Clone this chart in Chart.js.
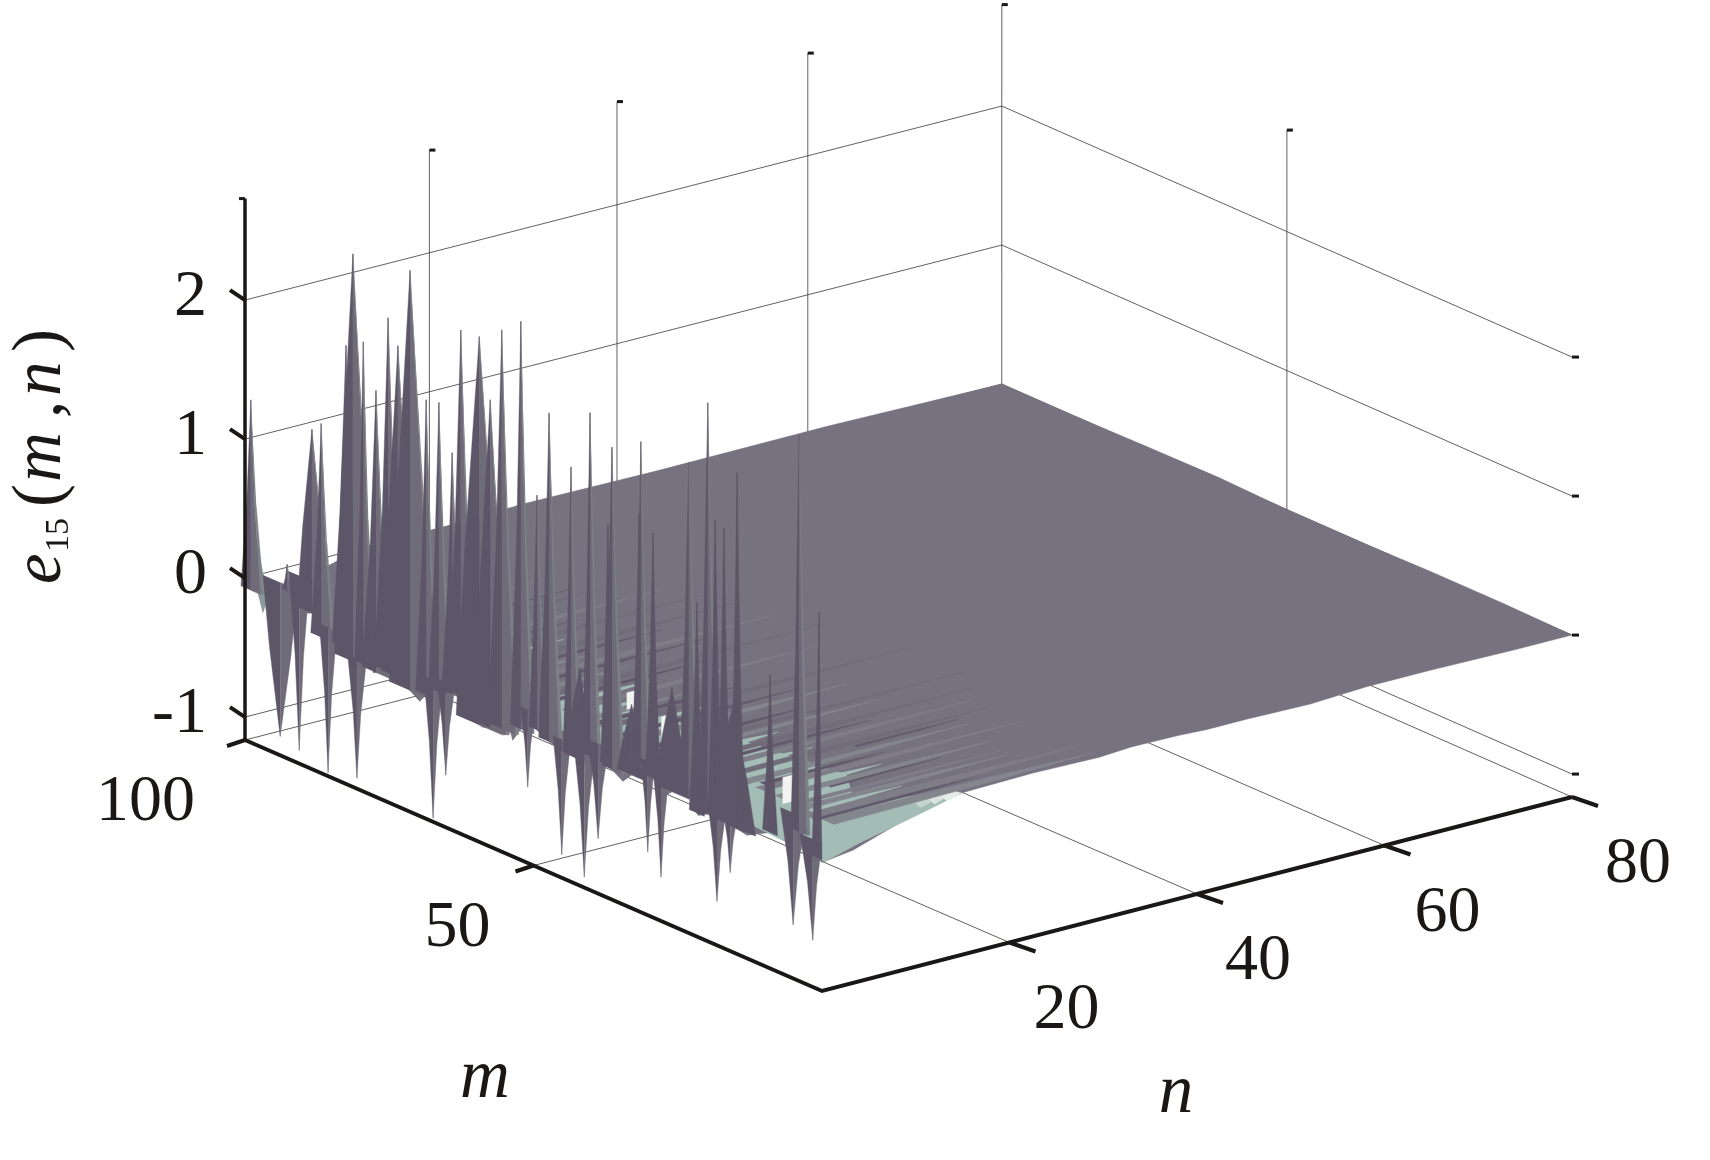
<!DOCTYPE html>
<html>
<head>
<meta charset="utf-8">
<title>e15(m,n)</title>
<script src="https://cdn.jsdelivr.net/npm/chart.js@4/dist/chart.umd.js"></script>
<style>
html, body { margin: 0; padding: 0; background: #fff; }
canvas { display: block; }
</style>
</head>
<body>
<canvas id="surface" width="1710" height="1160"></canvas>
<script>
// tick values
const zTicks = [-1, 0, 1, 2];
const mTicks = [50, 100];
const nTicks = [20, 40, 60, 80];
const zFloor = -1.165, zTop = 2.73;

// peaks on the n=0 edge
const upM    = [99, 92.7, 88.4, 86.8, 82.5, 81.3, 79.5, 77.3, 75.2, 73.5, 71.4, 68.6, 66.4, 64.1, 62.6, 59.4, 57.5, 55.5, 52.2, 49.4, 47.3, 43.5, 40.2, 36.4, 31.4, 23.1, 19.8, 4];
const upZ    = [1.3, 0.23, 1.28, 1.35, 1.99, 2.67, 2.07, 1.76, 2.32, 2.15, 2.73, 1.85, 1.87, 1.55, 2.46, 2.47, 2.05, 2.59, 2.71, 1.51, 2.14, 1.82, 2.27, 2.09, 2.22, 2.22, 2.71, 2.76];
const upHalf = [1.7, 0.8, 2.6, 1.8, 2.4, 3.2, 1.5, 2.4, 2.4, 2.8, 3.6, 1.8, 1.8, 1.8, 2.4, 4, 2.8, 2.4, 1.8, 1.4, 1.8, 1.4, 1.4, 1.7, 1.4, 1.7, 1.7, 1.4];

// darker peaks standing in front of the plane
const innerM    = [42, 37.1, 33, 31.7, 29.3, 26, 21.7, 18.5, 17, 15.5, 14.7, 9, 0.5];
const innerZ    = [0.4, 1.52, 0.3, 1.7, 1.6, 0.55, 1.24, 1.89, 1.86, 0.6, 2.3, 0.95, 1.55];
const innerHalf = [2.5, 1.3, 2.5, 1.3, 1.3, 3, 1.3, 1.3, 1.3, 4, 1.3, 1.3, 1.3];

// troughs on the n=0 edge
const downM    = [93.9, 90.6, 85.6, 80.6, 67.4, 65.2, 51, 45.1, 41.2, 38.8, 30.2, 27.9, 18.2, 15.9, 5, 1.6];
const downZ    = [-1.03, -1.07, -1.14, -1.09, -1.14, -0.79, -0.62, -1, -1.09, -0.77, -0.71, -0.85, -0.85, -0.6, -0.78, -0.83];
const downHalf = [3, 1.8, 1.5, 1.6, 1.6, 1.6, 1.2, 1.5, 1.8, 1.8, 1.2, 1.3, 1.6, 1.2, 2.2, 2.2];

// lower outline of the surface along n=0
const edgeM = [96, 90.5, 90, 88.2, 87, 83, 80.6, 78.3, 77.8, 74.4, 72.6, 69.7, 67.9, 61.5, 60.7, 58.8, 54.1, 53.6, 51.1, 47.7, 45.4, 41.9, 39, 34.5, 31, 26.9, 24.1, 21.5, 18.9, 13, 7.8, 5.9, 0];
const edgeZ = [-0.07, 0.11, -0.07, -0.04, -0.19, -0.15, -0.31, -0.18, -0.28, -0.21, -0.26, -0.34, -0.23, -0.16, -0.31, -0.33, -0.26, -0.33, -0.14, -0.22, -0.25, -0.26, -0.16, -0.28, -0.11, -0.24, -0.12, -0.29, -0.23, -0.28, -0.16, -0.02, -0.24];

// outline along m=0
const frontN = [3.3, 8.3, 11.8, 14.7, 22.5, 29.6, 33, 38, 41, 45.5, 52, 58, 65, 74, 80];
const frontZ = [-0.21, -0.1, -0.02, 0, 0.01, 0, 0.015, 0.01, 0, 0, -0.01, 0.01, 0.01, 0, 0];

// outline along n=80
const rightM = [12, 25, 37, 50, 62, 75, 88, 100];
const rightZ = [0.01, 0.01, 0, 0, 0.015, 0.01, 0, 0];

// outline along m=100
const backN = [62, 44, 30, 21, 13, 9, 6];
const backZ = [0.01, 0, 0.01, -0.01, 0, -0.07, -0.17];

// light strip beside the m=100 wall
const faceM = [100, 96.9, 96, 98.3];
const faceZ = [0.274, -0.195, -0.07, 0.355];

// exposed underside near the front corner
const tealM = [0, 0, 0, 0, 1.5, 4, 12, 30, 50, 56, 56];
const tealN = [0.3, 4, 10, 15, 14, 6, 10, 8, 4, 2, 0.5];
const tealZ = [-0.24, -0.17, -0.08, 0, 0, 0, 0, 0, 0, 0, -0.1];

// ripples running along n
const streakM    = [1.5, 3, 4.2, 5.6, 6.6, 8, 10.2, 11, 12.4, 14, 15.2, 16.8, 18.5, 19.6, 21, 22.4, 24, 25.4, 27, 28.6, 30, 31.4, 33, 34.6, 36.5, 38, 39.5, 41, 42.6, 44, 46, 48, 49.5, 51, 53, 55, 56.5, 58.5, 60, 62, 64, 66, 68, 70, 72, 74, 76, 78, 80, 83, 86];
const streakFrom = [1.5, 1, 1, 2, 2, 2, 7, 2, 2, 2, 3, 2, 15, 2, 2, 2, 1, 1, 1, 1, 1, 1, 0, 1, 1, 0, 1, 1, 0, 0, 1, 0, 1, 1, 1, 1, 1, 1, 2, 1, 1, 2, 1, 1, 1, 2, 1, 1, 1, 1, 1];
const streakTo   = [30, 18, 30, 12, 24, 24, 19, 25, 14, 30, 16, 26, 26, 30, 12, 30, 20, 32, 12, 24, 34, 18, 10, 24, 20, 12, 34, 16, 12, 9, 28, 12, 18, 32, 12, 22, 30, 12, 20, 30, 12, 28, 16, 26, 10, 22, 20, 9, 20, 8, 18];
const streakSpan = [2.2, 1, 2, 1.3, 1.4, 1, 0.7, 1.5, 1.7, 1.5, 1, 1.5, 0.5, 1.4, 1.7, 1.4, 1, 1.4, 2, 1.2, 1, 1.2, 1.7, 1.5, 1, 1.7, 1.4, 1.2, 1.5, 1.5, 1.4, 1.5, 1, 1.4, 1.4, 0.8, 1.4, 1.4, 0.8, 1.5, 1.4, 1.2, 0.8, 1.4, 1.4, 1, 0.7, 1.4, 1.2, 1.4, 0.8];
const streakKind = ['g', 'd', 'l', 't', 'g', 'l', 'd', 'g', 't', 'l', 'd', 'g', 'd', 'f', 't', 'l', 'd', 'f', 't', 'g', 'f', 'd', 't', 'g', 'd', 't', 'f', 'd', 'g', 't', 'l', 't', 'd', 'f', 'g', 'd', 'l', 'g', 'd', 'f', 't', 'f', 'd', 'l', 'g', 'f', 'd', 'g', 'l', 'g', 'f'];

// bright patches seen between the ripples
const patchM  = [47, 43.5, 33.5, 12.5];
const patchN  = [3.1, 6, 3.5, 3.5];
const patchDn = [1.8, 1, 1.2, 1.1];
const patchZ  = [-0.065, -0.03, -0.12, -0.105];
const patchDz = [0.165, 0.12, 0.26, 0.19];

// paler steps of the underside at the front
const wedgeN = [10.5, 12, 13.3];
const wedgeDn = [1.5, 1.3, 1.5];

const INK = '#1a1714', GRID = '#3a3836';
const MAIN = '#77727f', DARK = '#5d5568', MID = '#6f6b79', SLATE = '#7d8286';
const KIND = { f: '#716c79', l: '#7f7d88', g: '#84868e', d: '#625a6c', t: '#a3bdb6' };
const TEAL = '#a3bdb6', PALE = '#f1f4f1';
const WEDGE = ['#c4d5cf', '#d9e4df', '#e6edea'];

// oblique view of (m, n, z) onto the page
function project(m, n, z) {
    return {
        x: 822 - 5.77 * m + n * (9.375 + 0.00085 * m) - 0.004 * n * (80 - n) * m / 100,
        y: 991 - 2.51 * m - 2.425 * n - 139 * (z - zFloor)
    };
}

function edgeZAt(m) {
    if (m > edgeM[0]) return edgeZ[0];
    for (let i = 0; i < edgeM.length - 1; i++) {
        if (m <= edgeM[i] && m >= edgeM[i + 1]) {
            let t = (edgeM[i] - m) / (edgeM[i] - edgeM[i + 1]);
            return edgeZ[i] + t * (edgeZ[i + 1] - edgeZ[i]);
        }
    }
    return 0;
}

let datasets = [];
function addPoly(points, color) {
    datasets.push({
        data: points,
        showLine: true,
        fill: 'shape',
        backgroundColor: color,
        borderColor: color,
        borderWidth: 0.4,
        pointRadius: 0,
        tension: 0,
        order: -datasets.length
    });
}
function addLine(points, color, width) {
    datasets.push({
        data: points,
        showLine: true,
        fill: false,
        borderColor: color,
        borderWidth: width,
        pointRadius: 0,
        tension: 0,
        order: -datasets.length
    });
}
function nudge(p, dx, dy) {
    return { x: p.x + dx, y: p.y + dy };
}
function between(a, b, t) {
    return { x: a.x + (b.x - a.x) * t, y: a.y + (b.y - a.y) * t };
}

// thin grid on the two back walls and the floor
for (let z of zTicks) {
    addLine([project(100, 0, z), project(100, 80, z), project(0, 80, z)], GRID, 0.8);
    let end = project(0, 80, z);
    addLine([end, nudge(end, 7, 0)], INK, 3);
}
addLine([project(100, 0, zFloor), project(100, 80, zFloor), project(0, 80, zFloor)], GRID, 0.8);
for (let n of nTicks) {
    let top = project(100, n, zTop);
    addLine([project(100, n, zFloor), top], GRID, 0.8);
    addLine([top, nudge(top, 6, 0)], INK, 3);
    if (n < 80) addLine([project(0, n, zFloor), project(100, n, zFloor)], GRID, 0.8);
}
addLine([project(50, 0, zFloor), project(50, 80, zFloor)], GRID, 0.8);
let midTop = project(50, 80, zTop);
addLine([project(50, 80, zFloor), midTop], GRID, 0.8);
addLine([midTop, nudge(midTop, 6, 0)], INK, 3);

// flat part of the surface
let outline = edgeM.map((m, i) => project(m, 0, edgeZ[i]));
frontN.forEach((n, i) => outline.push(project(0, n, frontZ[i])));
rightM.forEach((m, i) => outline.push(project(m, 80, rightZ[i])));
backN.forEach((n, i) => outline.push(project(100, n, backZ[i])));
addPoly(outline, MAIN);

addPoly(tealM.map((m, i) => project(m, tealN[i], tealZ[i])), TEAL);
wedgeN.forEach((n, i) => {
    addPoly([
        project(0, n, -0.03),
        project(0, n + wedgeDn[i], 0),
        project(1.6, n + wedgeDn[i], 0),
        project(1.6, n, 0)
    ], WEDGE[i]);
});
streakM.forEach((m, i) => {
    let s = streakSpan[i] / 2;
    let from = streakFrom[i], to = streakTo[i];
    let mid = from + (to - from) * 0.6;
    addPoly([
        project(m + s, from, 0),
        project(m + s * 0.6, mid, 0),
        project(m, to, 0),
        project(m - s * 0.6, mid, 0),
        project(m - s, from, 0)
    ], KIND[streakKind[i]]);
});
patchM.forEach((m, i) => {
    addPoly([
        project(m, patchN[i], patchZ[i]),
        project(m, patchN[i] + patchDn[i], patchZ[i]),
        project(m, patchN[i] + patchDn[i], patchZ[i] + patchDz[i]),
        project(m, patchN[i], patchZ[i] + patchDz[i])
    ], PALE);
});
addPoly(faceM.map((m, i) => project(m, 0, faceZ[i])), '#8a9a9c');

// spikes from the back of the m axis to the front
let spikes = [];
upM.forEach((m, i) => spikes.push({ m, z: upZ[i], h: upHalf[i], up: true, inner: false }));
innerM.forEach((m, i) => spikes.push({ m, z: innerZ[i], h: innerHalf[i], up: true, inner: true }));
downM.forEach((m, i) => spikes.push({ m, z: downZ[i], h: downHalf[i], up: false, inner: false }));
spikes.sort((a, b) => b.m - a.m);
for (let s of spikes) {
    let foot = edgeZAt(s.m) + (s.up ? 0 : 0.08);
    let tip = project(s.m, 0, s.z);
    let base = project(s.m, 0, foot);
    let back = project(s.m + s.h, 0, foot);
    let fore = project(Math.max(s.m - s.h, 0), 0, foot);
    // narrow peaks pinch in towards the tip, broad ones bulge a little
    let pinch = s.h < 2.5 ? 0.75 : 1.12;
    let axis = between(base, tip, 0.45);
    let backWaist = between(axis, between(back, tip, 0.45), pinch);
    let foreWaist = between(axis, between(fore, tip, 0.45), pinch);
    addPoly([back, backWaist, tip, base], DARK);
    addPoly([tip, foreWaist, fore, base], s.inner ? DARK : MID);
    if (s.up && !s.inner) addPoly([tip, foreWaist, fore, nudge(fore, 3, 0), nudge(foreWaist, 1.5, 0)], SLATE);
}

// heavy axes and their ticks
addLine([project(100, 0, zFloor), project(100, 0, zTop)], INK, 3.5);
addLine([project(100, 0, zFloor), project(0, 0, zFloor), project(0, 80, zFloor)], INK, 4);
for (let z of zTicks) {
    let p = project(100, 0, z);
    addLine([p, nudge(p, -15, -10)], INK, 4);
}
for (let m of mTicks) {
    let p = project(m, 0, zFloor);
    addLine([p, nudge(p, -18, 6)], INK, 4);
}
for (let n of nTicks) {
    let p = project(0, n, zFloor);
    addLine([p, nudge(p, 26, 9)], INK, 4);
}
let topTick = project(100, 0, zTop);
addLine([topTick, nudge(topTick, -6, 0)], INK, 3);

const mLabelDx = [-43, -50];
const nLabelDx = [57, 61, 63, 66];

// tick labels and axis titles
const textPlugin = {
    id: 'axisText',
    afterDatasetsDraw(chart) {
        const { ctx, scales } = chart;
        const put = (p, str, dx, dy, align) => {
            ctx.textAlign = align;
            ctx.fillText(str, scales.x.getPixelForValue(p.x) + dx, scales.y.getPixelForValue(p.y) + dy);
        };
        ctx.save();
        ctx.fillStyle = INK;
        ctx.textBaseline = 'alphabetic';
        ctx.font = '66px "Liberation Serif"';
        zTicks.forEach(z => put(project(100, 0, z), String(z), -38, 15, 'right'));
        mTicks.forEach((m, i) => put(project(m, 0, zFloor), String(m), mLabelDx[i], 80, 'right'));
        nTicks.forEach((n, i) => put(project(0, n, zFloor), String(n), nLabelDx[i], 85, 'center'));
        ctx.font = 'italic 69px "Liberation Serif"';
        ctx.textAlign = 'center';
        ctx.fillText('m', 485, 1097);
        ctx.fillText('n', 1176, 1112);
        const side = [
            ['e', 60, 584, 'italic 69px "Liberation Serif"'],
            ['15', 68, 552, '34px "Liberation Serif"'],
            ['(', 60, 507, '69px "Liberation Serif"'],
            ['m', 60, 482, 'italic 69px "Liberation Serif"'],
            [',', 60, 418, '69px "Liberation Serif"'],
            ['n', 60, 396, 'italic 69px "Liberation Serif"'],
            [')', 60, 352, '69px "Liberation Serif"']
        ];
        for (let [str, x, y, font] of side) {
            ctx.save();
            ctx.translate(x, y);
            ctx.rotate(-Math.PI / 2);
            ctx.font = font;
            ctx.textAlign = 'left';
            ctx.fillText(str, 0, 0);
            ctx.restore();
        }
        ctx.restore();
    }
};

new Chart(document.getElementById('surface'), {
    type: 'scatter',
    data: { datasets: datasets },
    plugins: [textPlugin],
    options: {
        responsive: false,
        animation: false,
        layout: { padding: 0 },
        plugins: {
            legend: { display: false },
            tooltip: { enabled: false },
            filler: { propagate: false }
        },
        scales: {
            x: { type: 'linear', min: 0, max: 1710, display: false },
            y: { type: 'linear', min: 0, max: 1160, reverse: true, display: false }
        }
    }
});
</script>
</body>
</html>
